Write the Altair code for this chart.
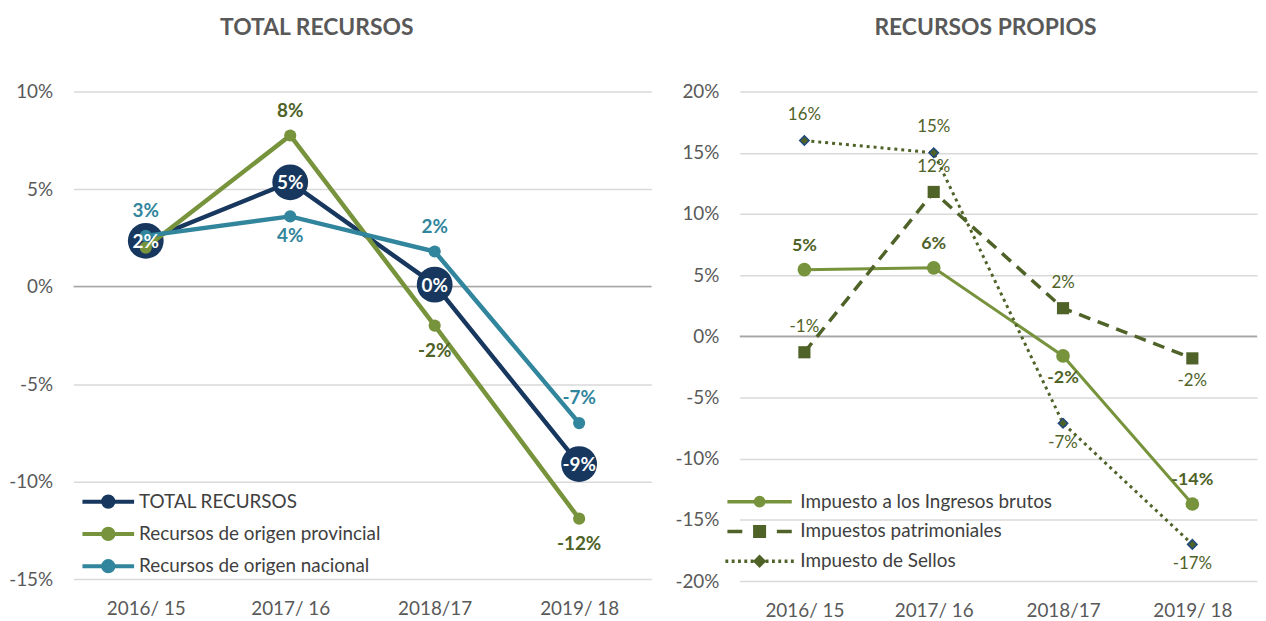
import math
import altair as alt
import pandas as pd

FONT = "Lato"

categories = ["2016/ 15", "2017/ 16", "2018/17", "2019/ 18"]

# Left panel: TOTAL RECURSOS (% variation)
total_recursos = [2.35, 5.35, 0.1, -9.1]
recursos_provinciales = [2.0, 7.75, -2.0, -11.9]
recursos_nacionales = [2.6, 3.6, 1.8, -7.0]

# Right panel: RECURSOS PROPIOS (% variation)
ingresos_brutos = [5.45, 5.6, -1.6, -13.7]
impuestos_patrimoniales = [-1.3, 11.8, 2.3, -1.8]
impuesto_sellos = [16.0, 15.0, -7.1, -17.0]

left_series = ["TOTAL RECURSOS", "Recursos de origen provincial", "Recursos de origen nacional"]
right_series = ["Impuesto a los Ingresos brutos", "Impuestos patrimoniales", "Impuesto de Sellos"]

# where each data label sits relative to its point
left_sides = [["in", "in", "in", "in"],
              ["none", "above", "below", "below"],
              ["above", "below", "above", "above"]]
right_sides = [["above", "above", "below", "above"],
               ["above", "above", "above", "below"],
               ["above", "above", "below", "below"]]


def pct(v):
    return f"{math.floor(v + 0.5):d}%"


def frame(names, values, sides):
    rows = []
    for name, vals, sd in zip(names, values, sides):
        for c, v, s in zip(categories, vals, sd):
            rows.append({"serie": name, "periodo": c, "valor": v, "lado": s, "etiqueta": pct(v)})
    return pd.DataFrame(rows)


left_df = frame(left_series, [total_recursos, recursos_provinciales, recursos_nacionales], left_sides)
right_df = frame(right_series, [ingresos_brutos, impuestos_patrimoniales, impuesto_sellos], right_sides)

AX_COLOR = "#595959"


def x_enc():
    return alt.X("periodo:N", sort=categories,
                 scale=alt.Scale(type="point", padding=0.5),
                 axis=alt.Axis(title=None, labelAngle=0, domain=False, ticks=False, grid=False,
                               labelPadding=21, labelFontSize=19, labelColor=AX_COLOR, labelFont=FONT))


def y_enc(dom, vals):
    return alt.Y("valor:Q", scale=alt.Scale(domain=dom, nice=False, zero=False),
                 axis=alt.Axis(title=None, values=vals, labelExpr="datum.value + '%'",
                               domain=False, ticks=False, gridColor="#D9D9D9", gridWidth=1.5,
                               labelPadding=21, labelFontSize=19, labelColor=AX_COLOR, labelFont=FONT))


def series_layers(df, name, line_kw, point_fn, xe, ye):
    base = alt.Chart(df).transform_filter(alt.datum.serie == name)
    return [base.mark_line(**line_kw).encode(x=xe, y=ye), point_fn(base).encode(x=xe, y=ye)]


def label_layers(df, name, label_kw, above_dy, below_dy, xe, ye):
    base = alt.Chart(df).transform_filter(alt.datum.serie == name)
    out = []
    for side, dy in (("above", above_dy), ("below", below_dy), ("in", 1)):
        out.append(base.transform_filter(alt.datum.lado == side)
                   .mark_text(dy=dy, baseline="middle", align="center", font=FONT, **label_kw)
                   .encode(x=xe, y=ye, text="etiqueta:N"))
    return out


def legend_layer(df, names, fills, strokes, paths, opts):
    leg = alt.Legend(**opts)
    enc = {
        "fill": alt.Fill("serie:N", scale=alt.Scale(domain=names, range=fills), legend=leg),
        "stroke": alt.Stroke("serie:N", scale=alt.Scale(domain=names, range=strokes), legend=leg),
        "shape": alt.Shape("serie:N", scale=alt.Scale(domain=names, range=paths), legend=leg),
    }
    return alt.Chart(df).transform_filter("false").mark_point(opacity=1).encode(**enc)


NAVY = "#17375E"
GREEN = "#77933C"
TEAL = "#31859C"
OLIVE = "#4F6228"

# ---------------- left panel ----------------
xl = x_enc()
yl = y_enc([-15, 10], [-15, -10, -5, 0, 5, 10])
zero_left = alt.Chart(pd.DataFrame({"valor": [0]})).mark_rule(color="#A6A6A6", strokeWidth=1.5).encode(y=yl)

L = []
L += series_layers(left_df, left_series[0], dict(color=NAVY, strokeWidth=4.5),
                   lambda b: b.mark_circle(size=1300, color=NAVY, opacity=1), xl, yl)
L += series_layers(left_df, left_series[1], dict(color=GREEN, strokeWidth=4.5),
                   lambda b: b.mark_circle(size=150, color=GREEN, opacity=1), xl, yl)
L += series_layers(left_df, left_series[2], dict(color=TEAL, strokeWidth=4.5),
                   lambda b: b.mark_circle(size=150, color=TEAL, opacity=1), xl, yl)
L += label_layers(left_df, left_series[0], dict(color="white", fontWeight="bold", fontSize=19), 0, 0, xl, yl)
L += label_layers(left_df, left_series[1], dict(color=OLIVE, fontWeight="bold", fontSize=19), -25, 26, xl, yl)
L += label_layers(left_df, left_series[2], dict(color=TEAL, fontWeight="bold", fontSize=19), -25, 20, xl, yl)

circ = "M-2,0L2,0M-0.4,0A0.4,0.4,0,1,1,0.4,0A0.4,0.4,0,1,1,-0.4,0Z"
left_leg = legend_layer(
    left_df, left_series, [NAVY, GREEN, TEAL], [NAVY, GREEN, TEAL], [circ, circ, circ],
    dict(orient="none", legendX=20, legendY=398, title=None, symbolSize=676, symbolStrokeWidth=4,
         labelFontSize=19, labelFont=FONT, labelColor="#404040", labelOffset=16, rowPadding=3.5,
         padding=0, labelLimit=500))

left = alt.layer(zero_left, *L, left_leg).properties(
    width=582, height=491, title=alt.Title("TOTAL RECURSOS", dx=-46))

# ---------------- right panel ----------------
xr = x_enc()
yr = y_enc([-20, 20], [-20, -15, -10, -5, 0, 5, 10, 15, 20])
zero_right = alt.Chart(pd.DataFrame({"valor": [0]})).mark_rule(color="#A6A6A6", strokeWidth=1.5).encode(y=yr)

R = []
R += series_layers(right_df, right_series[0], dict(color=GREEN, strokeWidth=3),
                   lambda b: b.mark_circle(size=190, color=GREEN, opacity=1), xr, yr)
R += series_layers(right_df, right_series[1], dict(color=OLIVE, strokeWidth=3.5, strokeDash=[12, 8]),
                   lambda b: b.mark_square(size=150, color=OLIVE, opacity=1), xr, yr)
R += series_layers(right_df, right_series[2], dict(color=OLIVE, strokeWidth=3, strokeDash=[3, 4]),
                   lambda b: b.mark_point(shape="diamond", size=90, filled=True, fill=OLIVE,
                                          stroke="#1F497D", strokeWidth=1.5, opacity=1), xr, yr)
R += label_layers(right_df, right_series[0], dict(color=OLIVE, fontWeight="bold", fontSize=18), -24, 22, xr, yr)
R += label_layers(right_df, right_series[1], dict(color=OLIVE, fontSize=17), -25, 23, xr, yr)
R += label_layers(right_df, right_series[2], dict(color=OLIVE, fontSize=17), -26, 20, xr, yr)

# legend glyphs: line pieces + marker, in symbol units
rc = "M-2.7,0L2.7,0M-0.35,0A0.35,0.35,0,1,1,0.35,0A0.35,0.35,0,1,1,-0.35,0Z"
rs = "M-2.7,0L-1.45,0M1.45,0L2.7,0M-0.4,-0.4L0.4,-0.4L0.4,0.4L-0.4,0.4Z"
dots = ""
for k in range(1, 6):
    for sgn in (-1, 1):
        c = sgn * (0.1 + 0.53 * k)
        dots += f"M{c - 0.12:.2f},0L{c + 0.12:.2f},0"
rd = dots + "M0,-0.36L0.36,0L0,0.36L-0.36,0Z"
right_leg = legend_layer(
    right_df, right_series, [GREEN, OLIVE, OLIVE], [GREEN, OLIVE, OLIVE], [rc, rs, rd],
    dict(orient="none", legendX=6, legendY=399, title=None, symbolSize=576, symbolStrokeWidth=3.5,
         labelFontSize=19, labelFont=FONT, labelColor="#404040", labelOffset=27, rowPadding=4,
         padding=0, labelLimit=500))

right = alt.layer(zero_right, *R, right_leg).properties(
    width=521, height=493, title=alt.Title("RECURSOS PROPIOS", dx=-13))

chart = (
    alt.hconcat(left, right, spacing=22)
    .resolve_scale(fill="independent", stroke="independent", shape="independent",
                   x="independent", y="independent")
    .resolve_legend(fill="independent", stroke="independent", shape="independent")
    .properties(padding={"left": 0, "top": 7, "right": 0, "bottom": 0})
    .configure_view(stroke=None)
    .configure_title(font=FONT, fontSize=23, fontWeight="bold", color=AX_COLOR, anchor="middle", offset=43)
)

chart.save("out.html", embed_options={"renderer": "svg", "actions": False})
